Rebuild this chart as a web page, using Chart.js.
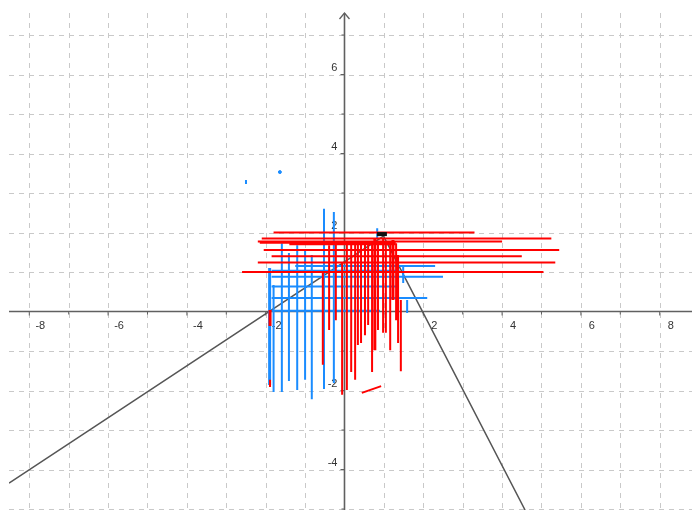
<!DOCTYPE html>
<html>
<head>
<meta charset="utf-8">
<script src="https://cdn.jsdelivr.net/npm/chart.js@4.4.0/dist/chart.umd.min.js"></script>
<style>
  html, body { margin: 0; padding: 0; background: #fff; }
  #wrap { width: 692px; height: 510px; }
</style>
</head>
<body>
<div id="wrap"><canvas id="plot"></canvas></div>
<script>
// Axis window (units)
const xMin = -8.515, xMax = 8.82;
const yMin = -5.025, yMax = 7.557;
const xTickLabels = [-8, -6, -4, -2, 2, 4, 6, 8];
const yTickLabels = [-4, -2, 2, 4, 6];

// Black polyline (left ray, vertex, right ray)
const blackX = [-8.515, 0.99, 4.583];
const blackY = [-4.344, 1.91, -5.025];

// Red horizontal segments: [y, x1, x2]
const redH = [
  [2.0, -1.8, 3.3], [1.85, -2.1, 5.25], [1.77, -2.2, 4.0], [1.74, -2.15, 1.3],
  [1.7, -1.4, 1.3], [1.56, -2.05, 5.45], [1.4, -1.85, 4.5], [1.24, -2.2, 5.35],
  [1.0, -2.6, 5.05]
];
// Red vertical segments: [x, y1, y2]
const redV = [
  [-1.89, -1.73, -1.91], [-0.55, 1.0, -1.35], [-0.39, 1.68, -0.47], [-0.22, 1.73, -0.22],
  [-0.06, 1.25, -2.11], [0.06, 1.73, -1.99], [0.17, 1.73, -1.53], [0.27, 1.73, -1.73],
  [0.34, 1.73, -0.85], [0.42, 1.73, -0.8], [0.52, 1.73, -0.6], [0.6, 1.73, -0.34],
  [0.7, 1.73, -1.53], [0.85, 1.73, -0.47], [0.98, 1.86, -0.54], [1.05, 1.73, -0.54],
  [1.16, 1.73, -0.98], [1.31, 1.73, -0.22], [1.36, 1.43, -0.8], [1.43, 0.29, -1.51]
];
const redVThick = [[-1.89, 0.04, -0.37], [0.77, 1.86, -0.98], [1.23, 1.81, 0.29]];
const redSlantX = [0.44, 0.93];
const redSlantY = [-2.06, -1.89];

// Blue horizontal segments: [y, x1, x2]
const blueH = [
  [1.15, -1.25, 2.3], [1.03, -1.85, 1.4], [0.88, -1.85, 2.5],
  [0.63, -1.85, 1.35], [0.34, -1.85, 2.1], [0.02, -1.85, 0.9]
];
// Blue vertical segments: [x, y1, y2]
const blueV = [
  [-1.8, 0.67, -2.04], [-1.59, 1.73, -2.04], [-1.41, 1.48, -1.76], [-1.2, 1.68, -1.99],
  [-1.0, 1.56, -1.73], [-0.83, 1.43, -2.22], [-0.52, 2.6, -1.96], [-0.27, 2.52, -1.81],
  [1.49, 1.15, 0.72], [1.59, 0.29, -0.04], [0.83, 2.11, 1.86], [-2.5, 3.33, 3.23]
];
const blueVThick = [[-1.9, 1.1, -1.86]];
const blueDotX = [-1.64];
const blueDotY = [3.53];

// Marked point near the vertex
const markX = [0.95];
const markY = [1.96];

function hSegs(list) {
  const pts = [];
  list.forEach(([y, x1, x2]) => pts.push({ x: x1, y }, { x: x2, y }, { x: x2, y: null }));
  return pts;
}
function vSegs(list) {
  const pts = [];
  list.forEach(([x, y1, y2]) => pts.push({ x, y: y1 }, { x, y: y2 }, { x, y: null }));
  return pts;
}
function zip(xs, ys) {
  return xs.map((x, i) => ({ x, y: ys[i] }));
}
function segSet(data, color, width) {
  return { data, borderColor: color, backgroundColor: color, borderWidth: width,
    showLine: true, pointRadius: 0, spanGaps: false };
}

const RED = "#ff0000";
const BLUE = "#1a8cff";

// Grid, axes and tick labels drawn under the datasets
const geoGrid = {
  id: "geoGrid",
  beforeDatasetsDraw(chart) {
    const { ctx, chartArea: a, scales: { x, y } } = chart;
    const x0 = x.getPixelForValue(0), y0 = y.getPixelForValue(0);
    ctx.save();
    ctx.strokeStyle = "#c9c9c9";
    ctx.lineWidth = 1;
    ctx.setLineDash([5, 5]);
    ctx.beginPath();
    for (let i = Math.ceil(xMin); i <= xMax; i++) {
      if (i === 0) continue;
      const px = Math.round(x.getPixelForValue(i)) + 0.5;
      ctx.moveTo(px, a.top); ctx.lineTo(px, a.bottom);
    }
    for (let j = Math.ceil(yMin); j <= yMax; j++) {
      if (j === 0) continue;
      const py = Math.round(y.getPixelForValue(j)) + 0.5;
      ctx.moveTo(a.left, py); ctx.lineTo(a.right, py);
    }
    ctx.stroke();
    ctx.setLineDash([]);

    // axes
    ctx.strokeStyle = "#606060";
    ctx.lineWidth = 1.6;
    ctx.beginPath();
    ctx.moveTo(a.left, y0); ctx.lineTo(a.right, y0);
    ctx.moveTo(x0, a.bottom); ctx.lineTo(x0, a.top);
    ctx.stroke();
    ctx.lineWidth = 1.3;
    ctx.beginPath();
    ctx.moveTo(x0 - 5, a.top + 6); ctx.lineTo(x0, a.top); ctx.lineTo(x0 + 5, a.top + 6);
    ctx.stroke();

    // ticks
    ctx.lineWidth = 1;
    ctx.beginPath();
    for (let i = Math.ceil(xMin); i <= xMax; i++) {
      if (i === 0) continue;
      const px = x.getPixelForValue(i);
      ctx.moveTo(px, y0); ctx.lineTo(px, y0 + (i % 2 === 0 ? 4 : 3));
    }
    for (let j = Math.ceil(yMin); j <= yMax; j++) {
      if (j === 0) continue;
      const py = y.getPixelForValue(j);
      ctx.moveTo(x0, py); ctx.lineTo(x0 - (j % 2 === 0 ? 4 : 3), py);
    }
    ctx.stroke();

    // labels
    ctx.fillStyle = "#333";
    ctx.font = "11px 'Liberation Sans', Arial, sans-serif";
    ctx.textBaseline = "middle";
    ctx.textAlign = "center";
    xTickLabels.forEach(v => {
      ctx.fillText(String(v), x.getPixelForValue(v) + 11, y0 + 14);
    });
    ctx.textAlign = "right";
    yTickLabels.forEach(v => {
      ctx.fillText(String(v), x0 - 7, y.getPixelForValue(v) - 7);
    });
    ctx.restore();
  }
};

new Chart(document.getElementById("plot"), {
  type: "scatter",
  data: {
    datasets: [
      { data: zip(markX, markY), pointStyle: "line", pointRadius: 5, pointBorderWidth: 4,
        backgroundColor: "#111", borderColor: "#111", showLine: false },
      segSet(vSegs(redVThick), RED, 3),
      segSet(vSegs(redV), RED, 2),
      segSet(zip(redSlantX, redSlantY), RED, 2),
      segSet(hSegs(redH), RED, 2),
      segSet(vSegs(blueVThick), BLUE, 3),
      segSet(vSegs(blueV), BLUE, 2),
      segSet(hSegs(blueH), BLUE, 2),
      { data: zip(blueDotX, blueDotY), pointRadius: 1.5, backgroundColor: BLUE,
        borderColor: BLUE, showLine: false },
      segSet(zip(blackX, blackY), "#555", 1.5)
    ]
  },
  options: {
    responsive: true,
    maintainAspectRatio: false,
    animation: false,
    layout: { autoPadding: false, padding: { left: 9, top: 13, right: 0, bottom: 0 } },
    scales: {
      x: { type: "linear", min: xMin, max: xMax, display: false },
      y: { type: "linear", min: yMin, max: yMax, display: false }
    },
    plugins: { legend: { display: false }, tooltip: { enabled: false } }
  },
  plugins: [geoGrid]
});
</script>
</body>
</html>
